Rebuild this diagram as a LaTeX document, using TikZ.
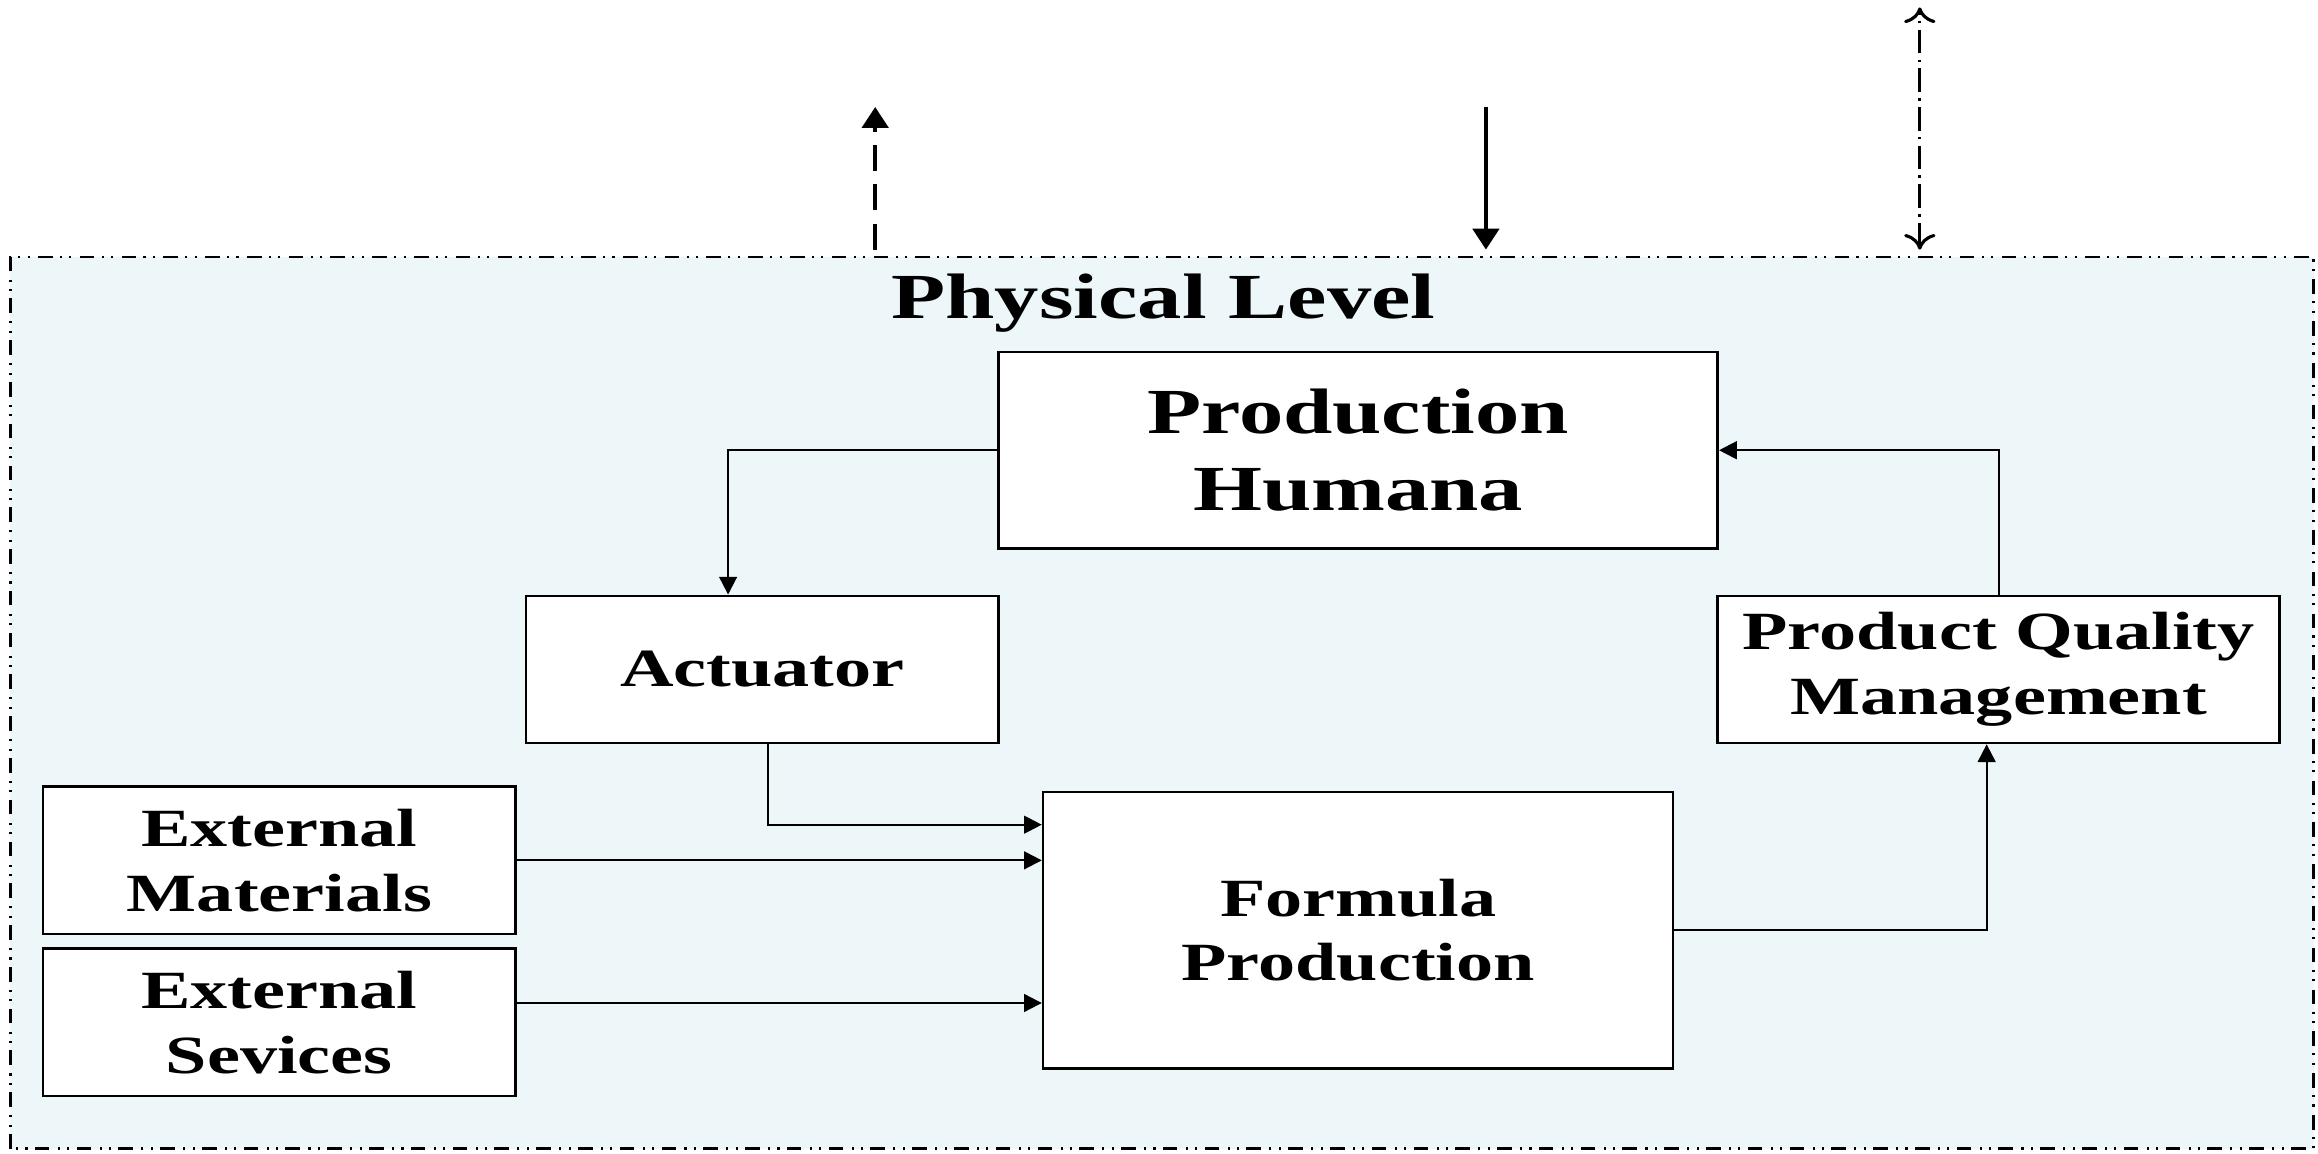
\documentclass[tikz,border=0pt]{standalone}
\usepackage{fontspec}
\setmainfont{Liberation Serif}[FakeStretch=1.38]
\usetikzlibrary{arrows.meta}
\definecolor{levelbg}{RGB}{237,246,249}

\tikzset{
    block/.style={draw, fill=white, line width=0.5pt, align=center, inner sep=0pt,
        font=\fontsize{10.3}{12.4}\selectfont\bfseries},
    link/.style={-{Triangle[length=3.4pt,width=3.4pt]}, line width=0.4pt},
    dashdotdot/.style={dash pattern=on 2.8pt off 1.4pt on 0.4pt off 1.4pt on 0.4pt off 1.6pt},
}

\begin{document}
\begin{tikzpicture}
        \useasboundingbox (0,0) rectangle (15.60,7.76);
        % physical level
        \draw[dashdotdot, line width=0.5pt, fill=levelbg] (0.07,0.03) rectangle (15.57,6.03);
        \node[font=\fontsize{12.3}{14.8}\selectfont\bfseries] (title) at (7.83,5.72) {Physical Level};
        % blocks
        \node[block, minimum width=4.84cm, minimum height=1.32cm, font=\fontsize{12.3}{14.8}\selectfont\bfseries] (human) at (9.14,4.73) {Production\\Humana};
        \node[block, minimum width=3.18cm, minimum height=0.99cm] (act) at (5.13,3.255) {Actuator};
        \node[block, minimum width=3.78cm, minimum height=0.99cm] (pqm) at (13.45,3.255) {Product Quality\\Management};
        \node[block, minimum width=3.18cm, minimum height=0.99cm] (mat) at (1.88,1.97) {External\\Materials};
        \node[block, minimum width=3.18cm, minimum height=0.99cm] (serv) at (1.88,0.88) {External\\Sevices};
        \node[block, minimum width=4.24cm, minimum height=1.86cm] (form) at (9.14,1.50) {Formula\\Production};
        % links
        \draw[link] (human.west) -| ([xshift=-0.23cm]act.north);
        \draw[link] ([xshift=0.04cm]act.south) |- ([yshift=0.71cm]form.west);
        \draw[link] (mat.east) -- (mat.east -| form.west);
        \draw[link] ([yshift=0.13cm]serv.east) -- ([yshift=0.13cm]serv.east -| form.west);
        \draw[link] (form.east) -| ([xshift=-0.08cm]pqm.south);
        \draw[link] (pqm.north) |- (human.east);
        % flows to upper levels
        \coordinate (up1) at (5.89,7.04);
        \coordinate (up1b) at (5.89,6.08);
        \coordinate (down1) at (10.00,7.04);
        \coordinate (down1b) at (10.00,6.08);
        \coordinate (both1) at (12.92,7.71);
        \coordinate (both1b) at (12.92,6.08);
        \draw[dash pattern=on 5pt off 2.5pt, line width=0.8pt, -{Triangle[length=4pt,width=5pt]}] (up1b) -- (up1);
        \draw[line width=0.8pt, -{Triangle[length=4pt,width=5pt]}] (down1) -- (down1b);
        \draw[dash pattern=on 4.5pt off 1.2pt on 0.5pt off 1.2pt, line width=0.6pt,
            {Computer Modern Rightarrow[length=3pt,width=6pt]}-{Computer Modern Rightarrow[length=3pt,width=6pt]}] (both1b) -- (both1);
\end{tikzpicture}
\end{document}
